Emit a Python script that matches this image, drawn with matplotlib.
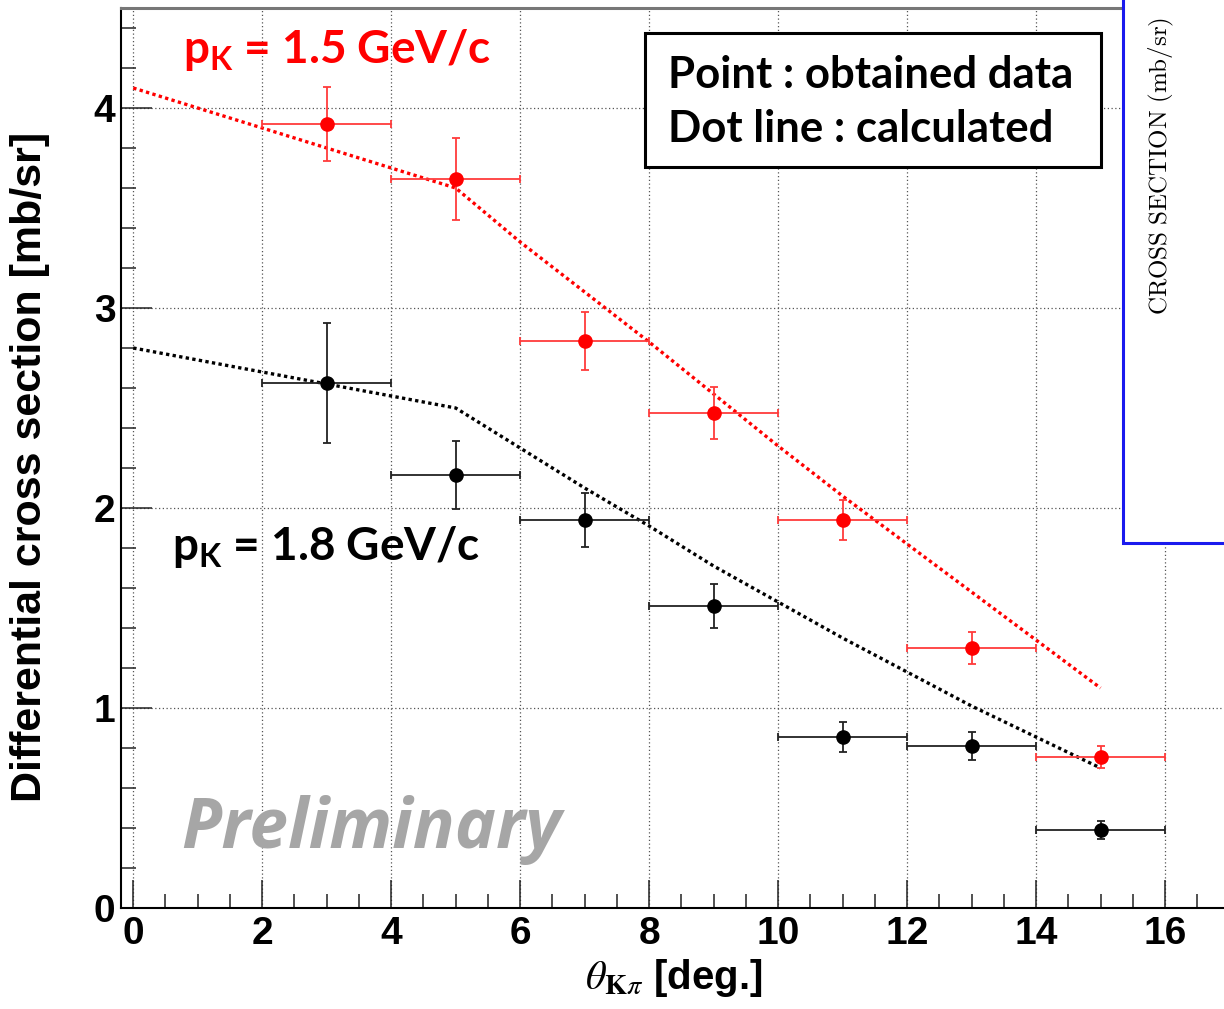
import numpy as np
import matplotlib
matplotlib.use('Agg')
import matplotlib.pyplot as plt
from matplotlib.patches import Rectangle
from matplotlib.ticker import MultipleLocator

plt.rcParams['mathtext.fontset'] = 'custom'
plt.rcParams['mathtext.rm'] = 'Lato:bold'
plt.rcParams['mathtext.bf'] = 'Lato:bold'

# measured points (bin centres, +-1 deg bins)
theta = [3, 5, 7, 9, 11, 13, 15]
theta_err = [1, 1, 1, 1, 1, 1, 1]
xs_15 = [3.92, 3.645, 2.835, 2.475, 1.94, 1.30, 0.755]
err_15 = [0.185, 0.205, 0.145, 0.128, 0.10, 0.08, 0.055]
xs_18 = [2.625, 2.165, 1.94, 1.51, 0.855, 0.81, 0.39]
err_18 = [0.30, 0.17, 0.135, 0.11, 0.075, 0.07, 0.045]

# calculated curves
calc_theta = [0, 1, 2, 3, 4, 5, 6, 7, 8, 9, 10, 11, 12, 13, 14, 15]
calc_15 = [4.10, 4.00, 3.90, 3.80, 3.70, 3.60, 3.33, 3.08, 2.83, 2.57, 2.31, 2.06, 1.82, 1.58, 1.34, 1.10]
calc_18 = [2.80, 2.74, 2.68, 2.62, 2.56, 2.50, 2.30, 2.10, 1.91, 1.71, 1.53, 1.35, 1.18, 1.01, 0.855, 0.70]

xticks = [0, 2, 4, 6, 8, 10, 12, 14, 16]
yticks = [0, 1, 2, 3, 4]

fig = plt.figure(figsize=(12.24, 10.09), dpi=100)
ax = fig.add_axes([121/1224, 101/1009, 1103/1224, 900/1009])
ax.set_xlim(-0.19, 16.915)
ax.set_ylim(0, 4.5)

ax.set_xticks(xticks)
ax.set_yticks(yticks)
ax.xaxis.set_minor_locator(MultipleLocator(0.5))
ax.yaxis.set_minor_locator(MultipleLocator(0.2))
ax.tick_params(which='both', direction='in', top=False, right=False, width=1.1, color='#222222')
ax.tick_params(axis='x', which='major', length=20, pad=6)
ax.tick_params(axis='x', which='minor', length=10)
ax.tick_params(axis='y', which='major', length=22, pad=4)
ax.tick_params(axis='y', which='minor', length=11)
for lab in ax.get_xticklabels() + ax.get_yticklabels():
    lab.set_fontfamily('Liberation Sans')
    lab.set_fontweight('bold')
    lab.set_fontsize(28)

ax.grid(True, which='major', color='#555555', linestyle=(0, (1, 2)), linewidth=0.9)
ax.set_axisbelow(True)
ax.spines['right'].set_visible(False)
ax.spines['top'].set_color('#777777')
ax.spines['top'].set_linewidth(2.2)
ax.spines['left'].set_linewidth(1.5)
ax.spines['bottom'].set_linewidth(1.5)

ax.plot(calc_theta, calc_15, color='#ff0000', linestyle=(0, (1, 1)), linewidth=2.4, zorder=3)
ax.plot(calc_theta, calc_18, color='black', linestyle=(0, (1, 1)), linewidth=2.4, zorder=3)

ax.errorbar(theta, xs_15, xerr=theta_err, yerr=err_15, fmt='o', color='#ff0000',
            ecolor='#ff3b3b', elinewidth=1.3, capsize=3, capthick=1.3, markersize=9.5, zorder=4)
ax.errorbar(theta, xs_18, xerr=theta_err, yerr=err_18, fmt='o', color='black',
            ecolor='#222222', elinewidth=1.3, capsize=3, capthick=1.3, markersize=9.5, zorder=4)

ax.text(0.775, 4.225, r'$\mathrm{p}_{\mathrm{K}}$ = 1.5 GeV/c', color='#ff0000', fontfamily='Lato',
        fontweight='bold', fontsize=33, va='baseline', ha='left', zorder=5)
ax.text(0.6, 1.74, r'$\mathrm{p}_{\mathrm{K}}$ = 1.8 GeV/c', color='black', fontfamily='Lato',
        fontweight='bold', fontsize=33, va='baseline', ha='left', zorder=5)

ax.add_patch(Rectangle((7.94, 3.705), 7.07, 0.67, facecolor='white', edgecolor='black',
                       linewidth=2.2, zorder=5))
ax.text(8.29, 4.10, 'Point : obtained data', fontfamily='Lato', fontweight='bold', fontsize=31.5,
        va='baseline', ha='left', zorder=6)
ax.text(8.29, 3.83, 'Dot line : calculated', fontfamily='Lato', fontweight='bold', fontsize=31.5,
        va='baseline', ha='left', zorder=6)

ax.text(0.74, 0.30, 'Preliminary', color='#a6a6a6', fontfamily='Open Sans', fontweight='bold',
        fontstyle='italic', fontsize=50, va='baseline', ha='left', zorder=5)

fig.text(30/1224, 1 - 467/1009, 'Differential cross section [mb/sr]', rotation=90,
         fontfamily='Liberation Sans', fontweight='bold', fontsize=31, ha='center', va='center')
fig.text(674/1224, 1 - 978/1009, r'$\theta_{\mathbf{K}\pi}$ [deg.]', math_fontfamily='stix',
         fontfamily='Liberation Sans', fontweight='bold', fontsize=29, ha='center', va='center')

# pasted inset from another figure on the right edge
fig.add_artist(Rectangle((1123/1224, 1 - 543/1009), 0.2, 0.6, transform=fig.transFigure,
                         facecolor='white', edgecolor='#1a1aee', linewidth=2.2, zorder=10))
fig.text(1161/1224, 1 - 166/1009, r'$\mathrm{CROSS\ SECTION\ (mb/sr)}$', math_fontfamily='cm',
         rotation=90, fontsize=18, ha='center', va='center', zorder=11)

fig.savefig('out.png', dpi=100)
